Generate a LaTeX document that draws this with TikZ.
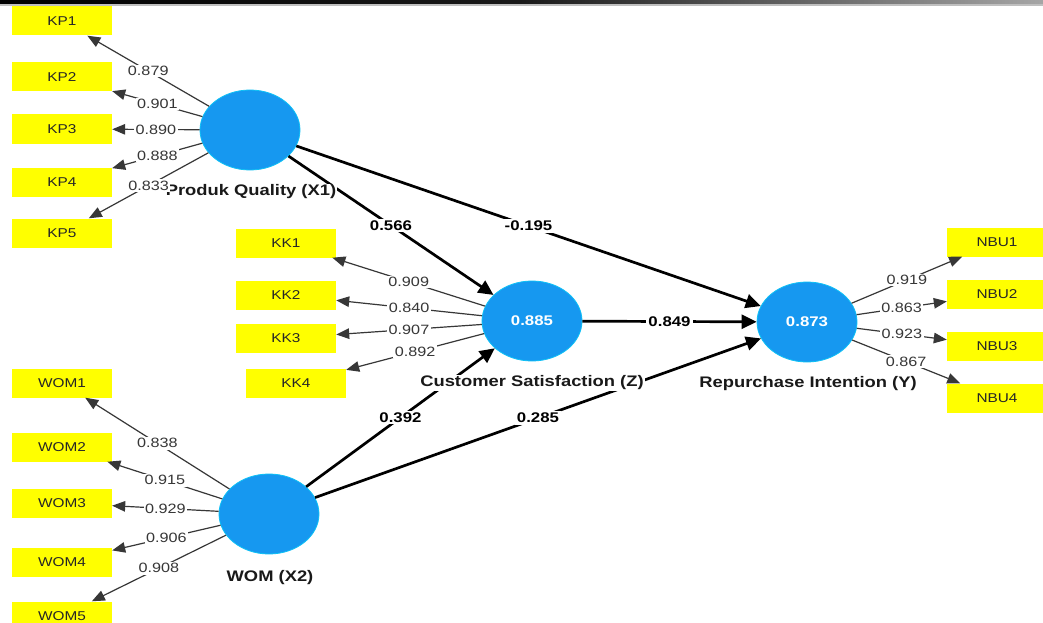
\documentclass[tikz,border=0pt]{standalone}
\usepackage{fontspec}
\setmainfont{Liberation Sans}[FakeStretch=1.2]
\usetikzlibrary{shapes.geometric,arrows.meta}
\definecolor{lvblue}{RGB}{22,152,240}
\definecolor{indyel}{RGB}{255,255,0}
\definecolor{loadgray}{RGB}{55,55,55}
\tikzset{
  lv/.style={ellipse,fill=lvblue,draw=lvblue!60!cyan,line width=0.8pt,minimum width=100pt,minimum height=80pt,inner sep=0pt,text=white,font=\bfseries\fontsize{14}{16}\selectfont},
  ind/.style={rectangle,fill=indyel,minimum width=100pt,minimum height=29pt,inner sep=0pt,text=black!85,font=\fontsize{12.8}{14}\selectfont},
  lvname/.style={fill=white,font=\bfseries\fontsize{15.3}{17}\selectfont,text=black!90,inner sep=1pt},
  load/.style={draw=loadgray,line width=1.2pt,-{Triangle[length=13pt,width=10.5pt]}},
  lab/.style={fill=white,inner sep=1.5pt,text=loadgray,font=\fontsize{13.5}{15}\selectfont},
  struct/.style={draw=black,line width=2.7pt,-{Triangle[length=15pt,width=14pt]}},
  plab/.style={fill=white,inner sep=2pt,text=black,font=\bfseries\fontsize{14}{16}\selectfont}
}
\begin{document}
\begin{tikzpicture}[x=1pt,y=-1pt]
\useasboundingbox (0,0) rectangle (1043,623);
\clip (0,0) rectangle (1043,623);
\fill[white] (0,0) rectangle (1043,623);
% construct nodes
\node[lv] (X1) at (250,130) {};
\node[lv] (Z) at (532,321) {0.885};
\node[lv] (Y) at (807,322) {0.873};
\node[lv] (X2) at (269,514) {};
% indicators
\node[ind] (KP1) at (62,21) {KP1};
\node[ind] (KP2) at (62,77) {KP2};
\node[ind] (KP3) at (62,129) {KP3};
\node[ind] (KP4) at (62,182) {KP4};
\node[ind] (KP5) at (62,233) {KP5};
\node[ind] (KK1) at (286,243) {KK1};
\node[ind] (KK2) at (286,295) {KK2};
\node[ind] (KK3) at (286,338) {KK3};
\node[ind] (KK4) at (296,383) {KK4};
\node[ind] (WOM1) at (62,383) {WOM1};
\node[ind] (WOM2) at (62,447) {WOM2};
\node[ind] (WOM3) at (62,503) {WOM3};
\node[ind] (WOM4) at (62,562) {WOM4};
\node[ind] (WOM5) at (62,616) {WOM5};
\node[ind] (NBU1) at (997,242) {NBU1};
\node[ind] (NBU2) at (997,294) {NBU2};
\node[ind] (NBU3) at (997,346) {NBU3};
\node[ind] (NBU4) at (997,398) {NBU4};
% structural paths
\draw[struct] (X1) -- node[plab]{0.566} (Z);
\draw[struct] (X1) -- node[plab]{-0.195} (Y);
\draw[struct] (Z) -- node[plab]{0.849} (Y);
\draw[struct] (X2) -- node[plab]{0.392} (Z);
\draw[struct] (X2) -- node[plab]{0.285} (Y);
% construct names
\node[lvname] (nX1) at (251,192) {Produk Quality (X1)};
\node[lvname] (nZ) at (532,383) {Customer Satisfaction (Z)};
\node[lvname] (nY) at (808,384) {Repurchase Intention (Y)};
\node[lvname] (nX2) at (270,578) {WOM (X2)};
% loadings
\draw[load] (X1) -- node[lab]{0.879} (KP1);
\draw[load] (X1) -- node[lab]{0.901} (KP2);
\draw[load] (X1) -- node[lab]{0.890} (KP3);
\draw[load] (X1) -- node[lab]{0.888} (KP4);
\draw[load] (X1) -- node[lab]{0.833} (KP5);
\draw[load] (Z) -- node[lab]{0.909} (KK1);
\draw[load] (Z) -- node[lab]{0.840} (KK2);
\draw[load] (Z) -- node[lab]{0.907} (KK3);
\draw[load] (Z) -- node[lab]{0.892} (KK4);
\draw[load] (X2) -- node[lab]{0.838} (WOM1);
\draw[load] (X2) -- node[lab]{0.915} (WOM2);
\draw[load] (X2) -- node[lab]{0.929} (WOM3);
\draw[load] (X2) -- node[lab]{0.906} (WOM4);
\draw[load] (X2) -- node[lab]{0.908} (WOM5);
\draw[load] (Y) -- node[lab]{0.919} (NBU1);
\draw[load] (Y) -- node[lab]{0.863} (NBU2);
\draw[load] (Y) -- node[lab]{0.923} (NBU3);
\draw[load] (Y) -- node[lab]{0.867} (NBU4);
% top screen border
\shade[left color=black,right color=black!35,middle color=black!90] (0,0) rectangle (1043,4.5);
\fill[black!25] (0,4.5) rectangle (1043,6);
\end{tikzpicture}
\end{document}
